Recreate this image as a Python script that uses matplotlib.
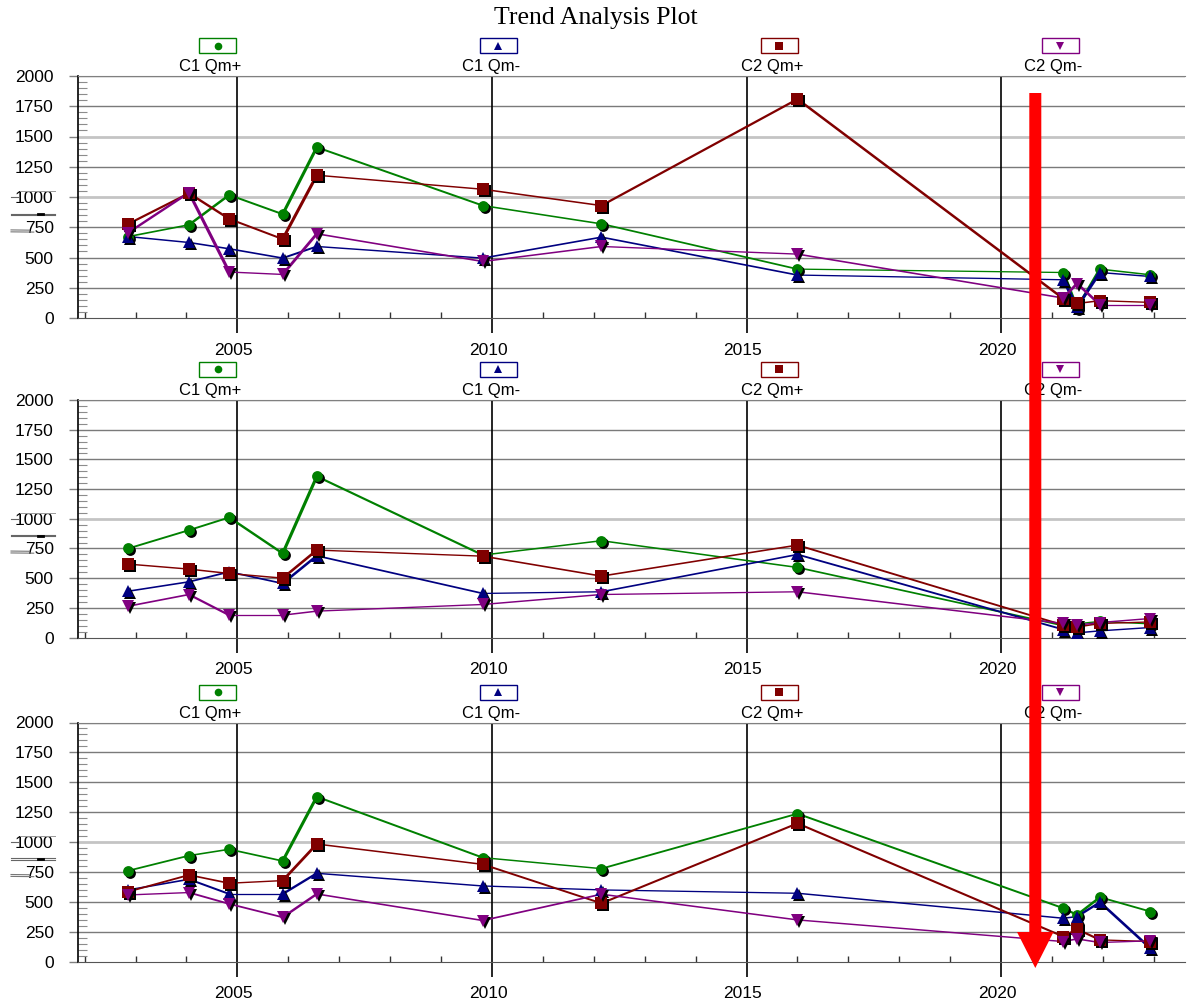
import numpy as np
import matplotlib
matplotlib.use("Agg")
import matplotlib.pyplot as plt
from matplotlib import transforms
from matplotlib.collections import LineCollection
from matplotlib.lines import Line2D
from matplotlib.patches import Rectangle, Polygon

plt.rcParams['font.family'] = ['Liberation Sans', 'DejaVu Sans']

# === Data ===
years = [2002.86, 2004.05, 2004.84, 2005.89, 2006.56, 2009.82,
         2012.15, 2016.0, 2021.22, 2021.49, 2021.94, 2022.93]

series_names = ["C1 Qm+", "C1 Qm-", "C2 Qm+", "C2 Qm-"]
series_colors = ["#008000", "#000080", "#800000", "#800080"]
series_markers = ["o", "^", "s", "v"]
marker_sizes = [7.8, 8.8, 8.2, 8.8]

# top panel
p1_c1_plus = [673, 770, 1017, 858, 1411, 929, 778, 404, 376, 80, 404, 357]
p1_c1_minus = [673, 624, 572, 495, 591, 495, 668, 355, 316, 91, 376, 343]
p1_c2_plus = [778, 1031, 819, 652, 1180, 1064, 929, 1809, 160, 120, 143, 129]
p1_c2_minus = [706, 1036, 380, 360, 696, 467, 591, 528, 165, 285, 110, 110]

# middle panel
p2_c1_plus = [750, 904, 1011, 708, 1357, 694, 815, 590, 100, 115, 135, 115]
p2_c1_minus = [390, 469, 553, 455, 688, 371, 385, 699, 67, 39, 56, 84]
p2_c2_plus = [618, 576, 539, 500, 736, 685, 517, 778, 104, 89, 118, 131]
p2_c2_minus = [264, 362, 188, 188, 222, 278, 362, 385, 118, 104, 126, 160]

# bottom panel
p3_c1_plus = [760, 886, 939, 841, 1379, 869, 777, 1237, 446, 390, 538, 418]
p3_c1_minus = [599, 688, 565, 565, 738, 632, 599, 571, 362, 376, 496, 111]
p3_c2_plus = [585, 724, 655, 677, 983, 813, 487, 1156, 209, 270, 181, 167]
p3_c2_minus = [557, 577, 482, 370, 565, 343, 563, 348, 167, 189, 159, 173]

panels = [
    [p1_c1_plus, p1_c1_minus, p1_c2_plus, p1_c2_minus],
    [p2_c1_plus, p2_c1_minus, p2_c2_plus, p2_c2_minus],
    [p3_c1_plus, p3_c1_minus, p3_c2_plus, p3_c2_minus],
]
light_gridlines = [[1000, 1500], [1000], [1000]]

x_major = [2005, 2010, 2015, 2020]
x_minor = list(range(2002, 2024))
y_major = list(range(0, 2001, 250))
y_minor = list(range(0, 2001, 50))

# === Figure layout (pixel boxes: left, top, right, bottom) ===
W, H = 1189, 1002
fig = plt.figure(figsize=(W / 100, H / 100), dpi=100)

axes_boxes = [(78, 76, 1185, 318), (78, 400, 1185, 637.5), (78, 722.5, 1185, 961.5)]
legend_box_x = [217.5, 498, 779, 1060]


def fx(px):
    return px / W


def fy(py):
    return 1 - py / H


fig.text(fx(596), fy(18), "Trend Analysis Plot", family=['Liberation Serif', 'DejaVu Serif'],
         fontsize=18.5, ha='center', va='center')

shift_left = transforms.ScaledTranslation(-4 / 100, 0, fig.dpi_scale_trans)

for pi, (box, data) in enumerate(zip(axes_boxes, panels)):
    left, top, right, bottom = box
    ax = fig.add_axes([fx(left), fy(bottom), (right - left) / W, (bottom - top) / H])
    ax.set_xlim(2001.87, 2023.61)
    ax.set_ylim(0, 2000)

    ax.set_xticks(x_major)
    ax.set_xticks(x_minor, minor=True)
    ax.set_yticks(y_major)
    ax.set_yticks(y_minor, minor=True)
    ax.tick_params(axis='x', which='major', direction='out', length=10.8, width=1.2,
                   color='black', pad=7, labelsize=12.5)
    ax.tick_params(axis='x', which='minor', direction='in', length=4, width=1, color='#333333')
    ax.tick_params(axis='y', which='major', direction='out', length=6.5, width=1,
                   color='#808080', pad=11, labelsize=12.5)
    ax.tick_params(axis='y', which='minor', direction='in', length=6.5, width=0.8, color='#8c8c8c')
    for lab in ax.get_xticklabels():
        lab.set_transform(lab.get_transform() + shift_left)

    ax.spines['right'].set_visible(False)
    ax.spines['top'].set_color('#808080')
    ax.spines['bottom'].set_color('#555555')
    ax.spines['left'].set_color('black')
    ax.spines['left'].set_linewidth(1.2)

    # gridlines
    for yv in y_major[1:]:
        if yv in light_gridlines[pi]:
            ax.axhline(yv, color='#c4c4c4', lw=2.0, zorder=0.5)
        else:
            ax.axhline(yv, color='#7a7a7a', lw=1.0, zorder=0.5)
    for xv in x_major:
        ax.axvline(xv, color='black', lw=1.2, zorder=0.6)

    # stray marks next to the y labels
    yt = ax.get_yaxis_transform()
    ax.plot([-0.0605, -0.0208], [862, 862], color='#666666', lw=0.8, transform=yt, clip_on=False)
    ax.plot([-0.0605, -0.0208], [852, 852], color='#666666', lw=0.8, transform=yt, clip_on=False)
    ax.plot([-0.036, -0.032], [857, 857], color='black', lw=2.0, transform=yt, clip_on=False)
    ax.plot([-0.0605, -0.044], [728, 726], color='#777777', lw=0.8, transform=yt, clip_on=False)
    ax.plot([-0.0605, -0.040], [712, 710], color='#777777', lw=0.8, transform=yt, clip_on=False)
    ax.plot([-0.052, -0.021], [1050, 1050], color='#999999', lw=0.7, transform=yt, clip_on=False)
    ax.plot([-0.0605, -0.054], [1000, 1000], color='#666666', lw=0.8, transform=yt, clip_on=False)

    shadow = transforms.offset_copy(ax.transData, fig=fig, x=2, y=-2, units='dots')
    for vals, color, mk, ms in zip(data, series_colors, series_markers, marker_sizes):
        pts = np.column_stack([years, vals])
        disp = ax.transData.transform(pts)
        d = np.diff(disp, axis=0)
        sin_a = np.abs(d[:, 1]) / np.hypot(d[:, 0], d[:, 1])
        widths = (1.3 + 2.0 * sin_a) * 0.72
        segs = np.stack([pts[:-1], pts[1:]], axis=1)
        ax.add_collection(LineCollection(segs, linewidths=widths, colors=color, zorder=2,
                                         capstyle='round'))
        ax.plot(years, vals, ls='none', marker=mk, ms=ms, color='black', mew=0,
                transform=shadow, zorder=3)
        ax.plot(years, vals, ls='none', marker=mk, ms=ms, color=color, mew=0, zorder=3)

    # legend row above each panel
    for bx, name, color, mk in zip(legend_box_x, series_names, series_colors, series_markers):
        by = top - 30.5
        fig.add_artist(Rectangle((fx(bx - 18.5), fy(by + 7.5)), 37 / W, 15 / H,
                                 transform=fig.transFigure, facecolor='white',
                                 edgecolor=color, lw=1.0))
        fig.add_artist(Line2D([fx(bx)], [fy(by)], marker=mk, ms=5.5, color=color, mew=0,
                              transform=fig.transFigure))
        fig.text(fx(bx - 7), fy(top - 9), name, ha='center', va='center', fontsize=12)

# red arrow on top of everything
arrow_pts = [(1029.3, 93), (1041.3, 93), (1041.3, 932), (1053.5, 932),
             (1035.3, 968), (1017, 932), (1029.3, 932)]
fig.add_artist(Polygon([(fx(x), fy(y)) for x, y in arrow_pts], closed=True,
                       transform=fig.transFigure, facecolor='#ff0000', edgecolor='none',
                       zorder=10))

plt.savefig("out.png", dpi=100)
